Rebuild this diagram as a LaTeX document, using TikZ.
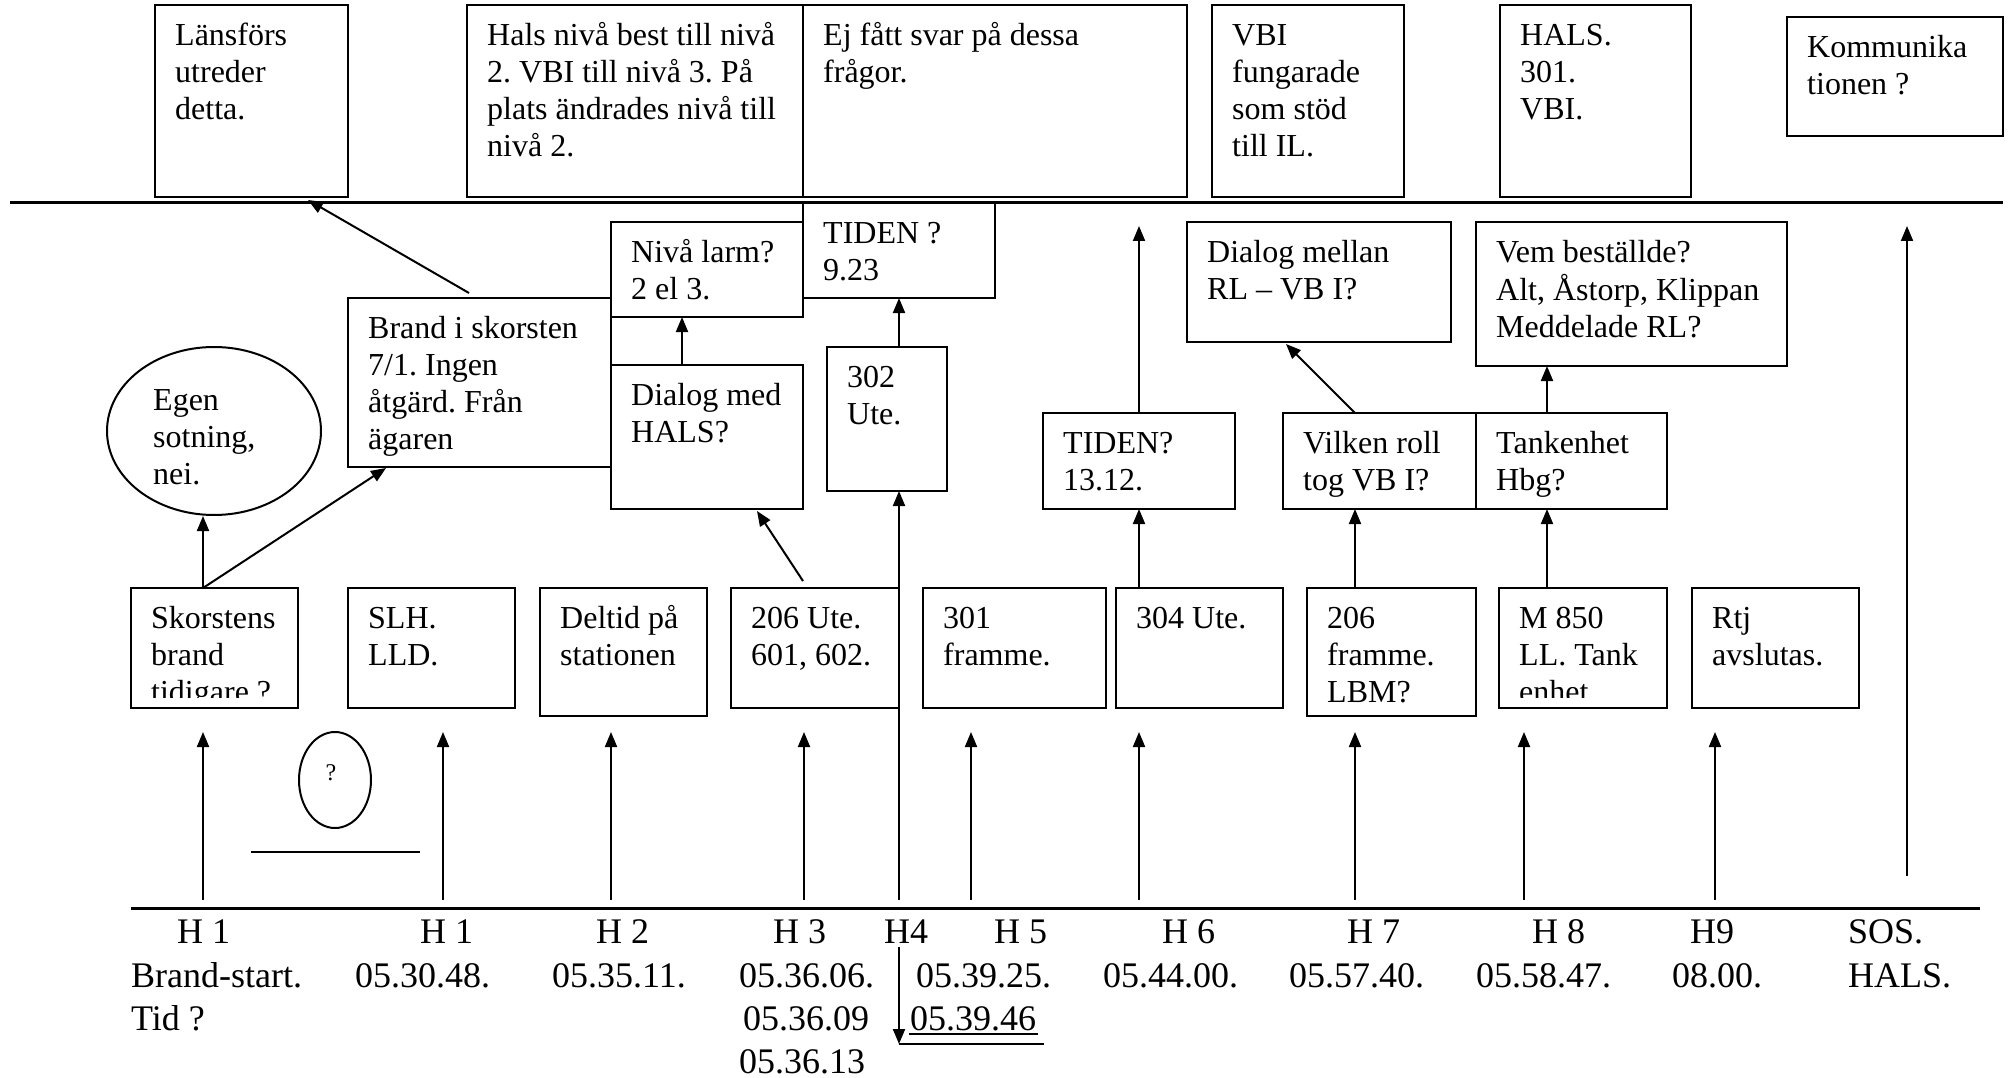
\documentclass[tikz,border=0pt]{standalone}
\usepackage{fontspec}
\setmainfont{Liberation Serif}
\frenchspacing
\usetikzlibrary{arrows.meta,shapes.geometric,calc}
\tikzset{
 bx/.style={draw, line width=2.2pt, anchor=north west, inner sep=0pt, outer sep=0pt},
 txt/.style={anchor=north west, inner sep=0pt, align=left, font=\fontsize{32}{37}\selectfont},
 lbl/.style={anchor=base west, inner sep=0pt, font=\fontsize{36}{43}\selectfont},
 arr/.style={line width=2pt, -{Triangle[length=15pt,width=12pt]}},
 ln/.style={line width=2pt},
 rulel/.style={line width=3pt},
 ell/.style={draw, ellipse, line width=2pt, inner sep=0pt},
}
\newcommand\mkbox[6]{%
  \node[bx,minimum width={#4pt-#2pt},minimum height={#5pt-#3pt}] (#1) at (#2,#3) {};
  \node[txt] (#1t) at ({#2+20},{#3+14}) {\strut #6};
}
\newcommand\mkclipbox[6]{%
  \node[bx,minimum width={#4pt-#2pt},minimum height={#5pt-#3pt}] (#1) at (#2,#3) {};
  \begin{scope}
  \clip (#2,#3) rectangle (#4,{#5-11});
  \node[txt] (#1t) at ({#2+20},{#3+14}) {\strut #6};
  \end{scope}
}
\begin{document}
\begin{tikzpicture}[x=1pt,y=-1pt]
\useasboundingbox (0,0) rectangle (2008,1078);
\fill[white] (0,0) rectangle (2008,1078);

% top row
\mkbox{lans}{155}{5}{348}{197}{Länsförs\\utreder\\detta.}
\mkbox{halsniva}{467}{5}{803}{197}{Hals nivå best till nivå\\2. VBI till nivå 3. På\\plats ändrades nivå till\\nivå 2.}
\mkbox{ejfatt}{803}{5}{1187}{197}{Ej fått svar på dessa\\frågor.}
\mkbox{vbi}{1212}{5}{1404}{197}{VBI\\fungarade\\som stöd\\till IL.}
\mkbox{halstop}{1500}{5}{1691}{197}{HALS.\\301.\\VBI.}
\mkbox{komm}{1787}{17}{2003}{136}{Kommunika\\tionen ?}

\coordinate (rl) at (10,203);
\coordinate (rr) at (2003,203);
\draw[rulel] (rl) -- (rr);

% middle
\mkbox{brand}{348}{298}{611}{467}{Brand i skorsten\\7/1. Ingen\\åtgärd. Från\\ägaren}
\mkbox{niva}{611}{222}{803}{317}{Nivå larm?\\2 el 3.}
\mkbox{tiden1}{803}{203}{995}{298}{TIDEN ?\\9.23}
\mkbox{dialog}{611}{365}{803}{509}{Dialog med\\HALS?}
\mkbox{u302}{827}{347}{947}{491}{302\\Ute.}
\mkbox{tiden2}{1043}{413}{1235}{509}{TIDEN?\\13.12.}
\mkbox{dmellan}{1187}{222}{1451}{342}{Dialog mellan\\RL – VB I?}
\mkbox{vem}{1476}{222}{1787}{366}{Vem beställde?\\Alt, Åstorp, Klippan\\Meddelade RL?}
\mkbox{vilken}{1283}{413}{1476}{509}{Vilken roll\\tog VB I?}
\mkbox{tank}{1476}{413}{1667}{509}{Tankenhet\\Hbg?}

\node[ell, minimum width=214pt, minimum height=168pt] (egen) at (214,431) {};
\node[txt] (egent) at (153,384) {\strut Egen\\sotning,\\nei.};

% bottom boxes
\mkclipbox{skor}{131}{588}{298}{708}{Skorstens\\brand\\tidigare ?}
\mkbox{slh}{348}{588}{515}{708}{SLH.\\LLD.}
\mkbox{deltid}{540}{588}{707}{716}{Deltid på\\stationen}
\mkbox{u206}{731}{588}{899}{708}{206 Ute.\\601, 602.}
\mkbox{f301}{923}{588}{1106}{708}{301\\framme.}
\mkbox{u304}{1116}{588}{1283}{708}{304 Ute.}
\mkbox{f206}{1307}{588}{1476}{716}{206\\framme.\\LBM?}
\mkclipbox{m850}{1499}{588}{1667}{708}{M 850\\LL. Tank\\enhet}
\mkbox{rtj}{1692}{588}{1859}{708}{Rtj\\avslutas.}

% connectors in middle
\draw[arr] ($(brand.north)+(-10.5,-5)$) -- ($(lans.south)+(56.5,3)$);
\draw[arr] ($(skor.north)+(-11.5,0)$) -- ($(egen.south)+(-11,0)$);
\draw[arr] ($(skor.north)+(-11.5,0)$) -- ($(brand.south)+(-93.5,1)$);
\draw[arr] ($(dialog.north)+(-25,0)$) -- ($(niva.south)+(-25,0)$);
\draw[arr] ($(u206.north)+(-12,-7)$) -- ($(dialog.south)+(50,2)$);
\coordinate (h4b) at (899,900);
\draw[arr] (h4b) -- ($(u302.south)+(12,0)$);
\draw[arr] ($(u302.north)+(12,0)$) -- (tiden1.south);
\draw[arr] ($(u304.north)+(-60.5,0)$) -- (tiden2.south);
\coordinate (t2end) at (1139,226);
\draw[arr] (tiden2.north) -- (t2end);
\draw[arr] ($(f206.north)+(-36.5,0)$) -- ($(vilken.south)+(-24.5,0)$);
\draw[arr] ($(vilken.north)+(-24.5,0)$) -- ($(dmellan.south)+(-33,2)$);
\draw[arr] ($(m850.north)+(-36,0)$) -- ($(tank.south)+(-24.5,0)$);
\draw[arr] ($(tank.north)+(-24.5,0)$) -- ($(vem.south)+(-84.5,0)$);
\coordinate (sosb) at (1907,876);
\coordinate (sost) at (1907,226);
\draw[arr] (sosb) -- (sost);

% bottom arrows
\foreach \xx/\nm in {203/a1,443/a2,611/a3,804/a4,971/a5,1139/a6,1355/a7,1524/a8,1715/a9}{
  \coordinate (\nm b) at (\xx,900);
  \coordinate (\nm t) at (\xx,732);
  \draw[arr] (\nm b) -- (\nm t);
}

% small ellipse and line
\node[ell, minimum width=72pt, minimum height=96pt] (qell) at (335,780) {};
\node[inner sep=0pt, font=\fontsize{24}{28}\selectfont] (qtxt) at (331,773) {?};
\coordinate (ql1) at (251,852);
\coordinate (ql2) at (420,852);
\draw[ln] (ql1) -- (ql2);

% axis
\coordinate (axl) at (131,908);
\coordinate (axr) at (1980,908);
\draw[rulel] (axl) -- (axr);

% labels
\node[lbl] (l11) at (177,943) {H 1};
\node[lbl] (l12) at (420,943) {H 1};
\node[lbl] (l13) at (596,943) {H 2};
\node[lbl] (l14) at (773,943) {H 3};
\node[lbl] (l15) at (884,943) {H4};
\node[lbl] (l16) at (994,943) {H 5};
\node[lbl] (l17) at (1162,943) {H 6};
\node[lbl] (l18) at (1347,943) {H 7};
\node[lbl] (l19) at (1532,943) {H 8};
\node[lbl] (l110) at (1690,943) {H9};
\node[lbl] (l111) at (1848,943) {SOS.};
\node[lbl] (l21) at (131,987) {Brand-start.};
\node[lbl] (l22) at (355,987) {05.30.48.};
\node[lbl] (l23) at (552,987) {05.35.11.};
\node[lbl] (l24) at (739,987) {05.36.06.};
\node[lbl] (l25) at (916,987) {05.39.25.};
\node[lbl] (l26) at (1103,987) {05.44.00.};
\node[lbl] (l27) at (1289,987) {05.57.40.};
\node[lbl] (l28) at (1476,987) {05.58.47.};
\node[lbl] (l29) at (1672,987) {08.00.};
\node[lbl] (l210) at (1848,987) {HALS.};
\node[lbl] (l31) at (131,1030) {Tid ?};
\node[lbl] (l32) at (743,1030) {05.36.09};
\node[lbl] (l33) at (910,1030) {05.39.46};
\node[lbl] (l41) at (739,1073) {05.36.13};
\draw[ln] ($(l33.base west)+(-1,4)$) -- ($(l33.base east)+(2,4)$);

% H4 down arrow and line
\coordinate (h4d1) at (899,947);
\coordinate (h4d2) at (899,1044);
\coordinate (h4e) at (1044,1044);
\draw[arr] (h4d1) -- (h4d2);
\draw[ln] (h4d2) -- (h4e);
\end{tikzpicture}
\end{document}
